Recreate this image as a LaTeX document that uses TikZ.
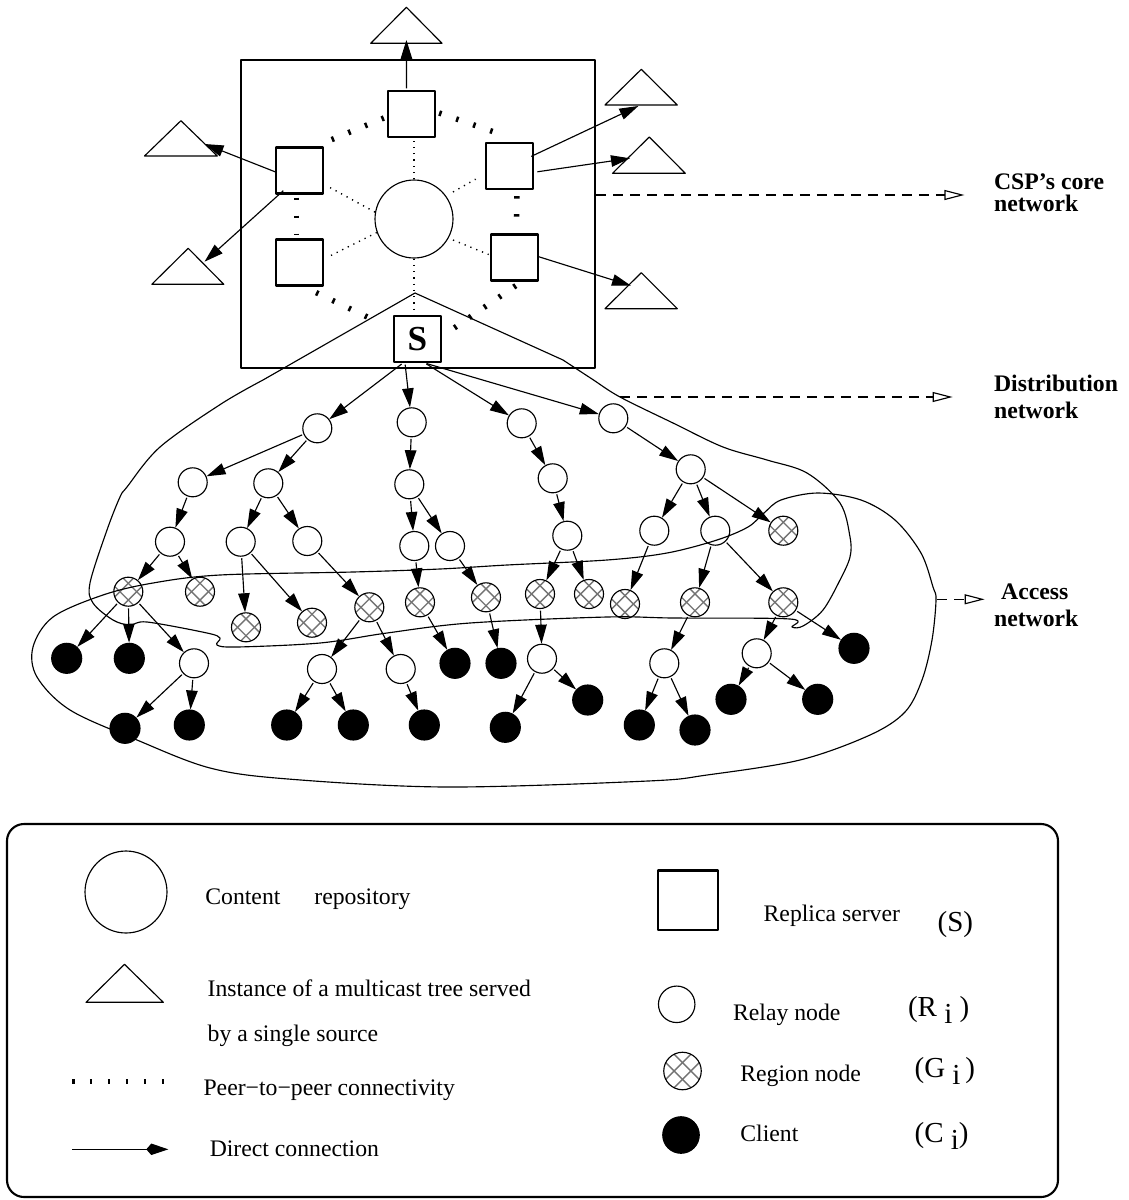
\documentclass[tikz,border=0pt]{standalone}
\usepackage{fontspec}
\setmainfont{Liberation Serif}
\usetikzlibrary{arrows.meta,calc}

% cross-hatching used inside region nodes
\newcommand\hatchfill{%
  \foreach \hs in {-1,1}{%
    \draw[black!55, line width=0.75pt]
      ($(path picture bounding box.center)+(4.2*\hs-25,-4.2*\hs-25)$) -- ++(50,50);
    \draw[black!55, line width=0.75pt]
      ($(path picture bounding box.center)+(4.2*\hs-25,4.2*\hs+25)$) -- ++(50,-50);
  }}
\newcommand\subi{\raisebox{-4pt}{i}}

\begin{document}
\begin{tikzpicture}[x=0.02cm, y=-0.02cm, line join=round,
  thin line/.style={line width=0.65pt},
  corebox/.style={rectangle, draw, line width=1.2pt, minimum width=7.08cm, minimum height=6.16cm, inner sep=0pt},
  repo/.style={circle, draw, thin line, minimum size=1.56cm, inner sep=0pt},
  server/.style={rectangle, draw, line width=1.3pt, minimum width=0.94cm, minimum height=0.92cm, inner sep=0pt, fill=white},
  relay/.style={circle, draw, thin line, fill=white, minimum size=0.58cm, inner sep=0pt},
  region/.style={circle, draw, thin line, fill=white, minimum size=0.58cm, inner sep=0pt, path picture={\hatchfill}},
  client/.style={circle, draw, fill=black, thin line, minimum size=0.6cm, inner sep=0pt},
  link/.style={thin line, -{Triangle[length=0.38cm,width=0.23cm]}, shorten <=0.03cm},
  p2p/.style={line width=0.11cm, dash pattern=on 0.05cm off 0.31cm},
  fine/.style={line width=0.8pt, dash pattern=on 0.025cm off 0.1cm},
  tri/.style={thin line},
  outline/.style={thin line},
  pointer/.style={thin line, dash pattern=on 0.2cm off 0.14cm, -{Triangle[open,length=0.4cm,width=0.2cm]}},
  lbl/.style={font=\fontsize{13.5}{16}\selectfont\bfseries, anchor=base west, inner sep=0pt},
  txt/.style={font=\fontsize{13.5}{16}\selectfont, anchor=base west, inner sep=0pt},
  sym/.style={font=\fontsize{16.5}{19}\selectfont, anchor=base west, inner sep=0pt}
]
\useasboundingbox (0,0) rectangle (1129,1200);

% ---------------- core network ----------------
\node[corebox] (core) at (418,214) {};
\node[repo] (rep) at (414,219) {};
\node[server] (top) at (411.5,114) {};
\node[server] (lu) at (299.5,170.5) {};
\node[server] (ll) at (299.5,262.5) {};
\node[server] (ru) at (509.3,166) {};
\node[server] (rl) at (514.3,257.5) {};
\node[server, font=\fontsize{20}{22}\selectfont\bfseries] (S) at (417.3,339) {S};

% repository to servers
\draw[fine] (rep.north) -- (rep.north |- top.south);
\draw[fine] (rep.170) -- ($(lu.south east)+(6,-7)$);
\draw[fine] (rep.200) -- ($(ll.north east)+(5,18)$);
\draw[fine] ($(rep)+(39,-27)$) -- ($(ru.south west)+(-9,-11)$);
\draw[fine] ($(rep)+(39,21)$) -- ($(rl.west)+(-1,-3)$);
\draw[fine] (rep.south) -- (rep.south |- S.north);

% peer-to-peer ring between servers
\draw[p2p] ($(top.east)+(3,-1)$) -- ($(ru.north)+(-4,-6)$);
\draw[p2p] ($(top.west)+(-3,4)$) -- ($(lu.north east)+(-4,-2)$);
\draw[p2p] ($(lu.south)+(-3,3)$) -- ($(ll.north)+(-3,-4)$);
\draw[p2p] ($(ru.south)+(7.5,6)$) -- ($(rl.north)+(2,-4)$);
\draw[p2p] ($(ll.south east)+(-8,6)$) -- ($(S.north west)+(-15,7)$);
\draw[p2p] ($(rl.south)+(1.5,4)$) -- ($(S.east)+(2,-4)$);

% multicast tree instances
\draw[tri] (406.4,7.3) -- (370.7,43.3) -- (442,43.3) -- cycle;
\draw[tri] (180.9,120.7) -- (144.5,156) -- (217.3,156) -- cycle;
\draw[tri] (188.2,248.3) -- (151.8,284.3) -- (223.8,284.3) -- cycle;
\draw[tri] (641.3,69.3) -- (605,105) -- (677.3,105) -- cycle;
\draw[tri] (649.3,137) -- (612.5,173.3) -- (685.3,173.3) -- cycle;
\draw[tri] (641.3,272.7) -- (605,308.7) -- (677.3,308.7) -- cycle;
\coordinate (t1) at (406.4,40);
\coordinate (t2) at (204.5,144);
\coordinate (t3) at (204.5,261.7);
\coordinate (t4) at (638.4,106);
\coordinate (t5) at (630,158.3);
\coordinate (t6) at (631,285.7);
\draw[link] ($(top.north)+(-5,0)$) -- (t1);
\draw[link] ($(lu.west)+(2,2)$) -- (t2);
\draw[link] ($(lu.south west)+(9.6,-5)$) -- (t3);
\draw[link] ($(ru.east)+(-4,-9)$) -- (t4);
\draw[link] ($(ru.east)+(2,6)$) -- (t5);
\draw[link] ($(rl.east)+(-2.5,-1.5)$) -- (t6);

% ---------------- distribution / access trees ----------------
\node[relay] (a1) at (317.3,428.3) {};
\node[relay] (b1) at (411.7,422.3) {};
\node[relay] (c1) at (521.7,423.3) {};
\node[relay] (d1) at (613.3,418.3) {};
\node[relay] (a2) at (192.7,482.3) {};
\node[relay] (a3) at (268.3,483.3) {};
\node[relay] (b2) at (409.3,484.3) {};
\node[relay] (c2) at (552.7,478.3) {};
\node[relay] (d2) at (690.7,469.3) {};
\node[relay] (a4) at (170,541.7) {};
\node[relay] (a5) at (240.7,541.7) {};
\node[relay] (a6) at (307.3,541) {};
\node[relay] (b3) at (414.3,546) {};
\node[relay] (b4) at (450,546) {};
\node[relay] (c3) at (567.3,535.7) {};
\node[relay] (d3) at (654.3,530.7) {};
\node[relay] (d4) at (715.3,530.7) {};

\node[region] (g1) at (128.3,591.7) {};
\node[region] (g2) at (200,591.7) {};
\node[region] (g3) at (246,627.3) {};
\node[region] (g4) at (312,622.7) {};
\node[region] (g5) at (369.3,607.3) {};
\node[region] (g6) at (420,602.3) {};
\node[region] (g7) at (486,597.3) {};
\node[region] (g8) at (540,594) {};
\node[region] (g9) at (589,594) {};
\node[region] (g10) at (625,604) {};
\node[region] (g11) at (695,602.3) {};
\node[region] (g12) at (783.3,602.3) {};
\node[region] (g13) at (783.3,530.7) {};

\node[relay] (e1) at (194,663.3) {};
\node[relay] (e2) at (322,669) {};
\node[relay] (e3) at (400.7,669) {};
\node[relay] (e4) at (542,658.7) {};
\node[relay] (e5) at (664.3,663.3) {};
\node[relay] (e6) at (756.7,653.3) {};

\node[client] (k1) at (66.7,658.3) {};
\node[client] (k2) at (129.3,658.3) {};
\node[client] (k3) at (125,728.3) {};
\node[client] (k4) at (189.3,725) {};
\node[client] (k5) at (286.7,725) {};
\node[client] (k6) at (353.3,725) {};
\node[client] (k7) at (424.3,725) {};
\node[client] (k8) at (455,663.3) {};
\node[client] (k9) at (501,663.3) {};
\node[client] (k10) at (505.3,727.3) {};
\node[client] (k11) at (587.7,700) {};
\node[client] (k12) at (639.3,725) {};
\node[client] (k13) at (695,730) {};
\node[client] (k14) at (731,699.3) {};
\node[client] (k15) at (817.7,699.3) {};
\node[client] (k16) at (854,648.3) {};

\draw[link] (S.-121) -- (a1);
\draw[link] (S.-117) -- (b1);
\draw[link] (S.-72) -- (c1);
\draw[link] (S.-72) -- (d1);
\foreach \u/\v in {a1/a2, a1/a3, a2/a4, a3/a5, a3/a6, a4/g1, a4/g2, a5/g3, a5/g4,
  a6/g5, b1/b2, b2/b3, b2/b4, b3/g6, b4/g7, c1/c2, c2/c3, c3/g8, c3/g9,
  d1/d2, d2/d3, d2/d4, d2/g13, d3/g10, d4/g11, d4/g12,
  g1/k1, g1/k2, g1/e1, e1/k3, e1/k4, g5/e2, g5/e3, e2/k5, e2/k6, e3/k7,
  g6/k8, g7/k9, g8/e4, e4/k10, e4/k11, g11/e5, e5/k12, e5/k13,
  g12/k16, g12/e6, e6/k14, e6/k15}
  \draw[link] (\u) -- (\v);

% distribution network boundary
\draw[outline] (415,293) -- plot[smooth, tension=0.55] coordinates {
  (263,380) (221,404) (160,447) (127,487) (120,497) (107,530) (90,583) (93,603)
  (113,620) (130,625) (147,622) (207,633) (220,638) (217,645) (237,647) (320,643)
  (387,633) (470,623) (607,617) (673,618) (790,619) (792,627) (803,626) (823,610)
  (840,580) (850,557) (850,537) (840,503) (807,473) (767,460) (723,447) (673,423)
  (620,397) (592,379) (563,360)} -- cycle;

% access network boundary
\draw[outline] plot[smooth cycle, tension=0.55] coordinates {
  (936,600) (933,587) (921,553) (895,520) (861,500) (818,493) (781,500) (764,513)
  (748,527) (717,540) (667,553) (607,560) (507,565) (440,569) (353,572) (220,575)
  (153,583) (103,595) (53,617) (33,647) (37,677) (70,710) (137,740) (210,768)
  (288,779) (446,787) (648,781) (707,775) (800,760) (870,735) (905,712) (922,680)
  (932,640)};

% ---------------- layer labels ----------------
\coordinate (cend) at (964.4,195);
\draw[pointer] (core.east |- cend) -- (cend);
\coordinate (dstart) at (620,397);
\coordinate (dend) at (952.6,397);
\draw[pointer] (dstart) -- (dend);
\coordinate (astart) at (937,599.3);
\coordinate (aend) at (984.6,599.3);
\draw[pointer] (astart) -- (aend);

\node[lbl] (cspA) at (993.7,189.3) {CSP’s core};
\node[lbl] (cspB) at (993.7,211.5) {network};
\node[lbl] (distA) at (993.7,391.7) {Distribution};
\node[lbl] (distB) at (993.7,418.3) {network};
\node[lbl] (accA) at (1000.8,599.3) {Access};
\node[lbl] (accB) at (993.7,626) {network};

% ---------------- legend ----------------
\draw[line width=1.2pt, rounded corners=0.34cm] (7,824) rectangle (1058,1197);

\node[repo, minimum size=1.64cm] (lgrep) at (126,892) {};
\node[txt] (lgrepT) at (205,904) {Content\hspace{19.3pt}repository};

\draw[tri] (124.5,964.3) -- (86,1002.3) -- (163.3,1002.3) -- cycle;
\node[txt] (lgtriA) at (207.3,996) {Instance of a multicast tree served};
\node[txt] (lgtriB) at (207.3,1041.7) {by a single source};

\draw[p2p] (72,1081.7) -- (165,1081.7);
\node[txt] (lgp2p) at (203.2,1095) {Peer−to−peer connectivity};

\draw[thin line, -{Kite[length=0.44cm,width=0.23cm,inset=0.1cm]}] (72.3,1149.3) -- (168.3,1149.3);
\node[txt] (lgdir) at (209.4,1156.7) {Direct connection};

\node[server, minimum width=1.2cm, minimum height=1.19cm] (lgsrv) at (688.2,900.3) {};
\node[txt] (lgsrvT) at (763.3,921.7) {Replica server};
\node[sym] (lgsrvS) at (937.3,931.7) {(S)};

\node[relay, minimum size=0.73cm] (lgrel) at (676.7,1004.3) {};
\node[txt] (lgrelT) at (732.7,1020) {Relay node};
\node[sym] (lgrelS) at (907.7,1016.7) {(R \subi\ )};

\node[region, minimum size=0.75cm] (lgreg) at (682.5,1071) {};
\node[txt] (lgregT) at (740,1081.7) {Region node};
\node[sym] (lgregS) at (914.3,1077.7) {(G \subi\,)};

\node[client, minimum size=0.73cm] (lgcli) at (681,1135) {};
\node[txt] (lgcliT) at (740,1141.7) {Client};
\node[sym] (lgcliS) at (914.3,1142.7) {(C \subi)};
\end{tikzpicture}
\end{document}
